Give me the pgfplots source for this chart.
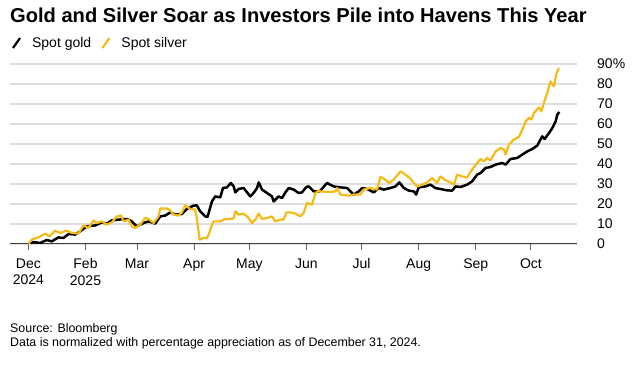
\documentclass[border=0pt]{standalone}
\usepackage{fontspec}
\setmainfont{Liberation Sans}
\usepackage{pgfplots}
\pgfplotsset{compat=1.18}
\definecolor{silv}{RGB}{244,187,22}
\definecolor{gridc}{RGB}{222,222,222}
\begin{document}
\begin{tikzpicture}[x=1pt,y=1pt]
\path[use as bounding box] (0,0) rectangle (638,379);
\node[anchor=base west, inner sep=0pt, font=\fontsize{20.1}{22}\selectfont\bfseries] at (10,356) {Gold and Silver Soar as Investors Pile into Havens This Year};
\node[anchor=base west, inner sep=0pt, font=\fontsize{12.4}{14}\selectfont] at (10,46) {Source: Bloomberg};
\node[anchor=base west, inner sep=0pt, font=\fontsize{12.4}{14}\selectfont] at (10,32) {Data is normalized with percentage appreciation as of December 31, 2024.};
\begin{axis}[
  at={(10pt,135pt)}, anchor=south west,
  scale only axis, width=567pt, height=180pt,
  xmin=-10, xmax=298, ymin=0, ymax=90,
  axis x line*=bottom, axis y line*=right,
  axis line style={-},
  y axis line style={draw=none},
  x axis line style={draw=black!75, line width=1pt},
  ymajorgrids, grid style={gridc, line width=1.3pt},
  ytick={0,10,20,30,40,50,60,70,80,90},
  yticklabels={0,10,20,30,40,50,60,70,80,90\%},
  ytick style={draw=none},
  yticklabel style={anchor=west, inner sep=0pt, xshift=20pt, font=\fontsize{14}{16}\selectfont},
  xtick={0,31,59,90,120,151,181,212,243,273},
  xticklabels={Dec\\2024,Feb\\2025,Mar,Apr,May,Jun,Jul,Aug,Sep,Oct},
  xticklabel style={align=center, yshift=-5pt, font=\fontsize{14}{16.5}\selectfont},
  xtick align=outside, major tick length=6pt,
  xtick style={draw=black!60, line width=1pt},
  legend style={at={(0.003,1.161)}, anchor=north west, draw=none, fill=none, legend columns=2, font=\fontsize{14}{16}\selectfont, inner sep=0pt, /tikz/every odd column/.append style={column sep=9pt}, /tikz/every even column/.append style={column sep=8pt}},
  legend image code/.code={\draw[#1, line width=2.2pt, line cap=butt] (0pt,-5pt) -- (7pt,5pt);},
]
\addplot[black, line width=2.5pt, line join=round] coordinates {
(0,0) (2.7,1) (6.3,0.5) (10,2) (12.7,1.3) (16.3,3.3) (19,3) (21.8,5) (25.4,4.7) (28.1,6.3)
(31.7,8.8) (36.3,9.3) (39.9,10.8) (42.6,10.2) (45.3,11.8) (48.9,12.2) (53.5,12.5) (56.2,11.3)
(58.9,8.8) (62.5,10.5) (65.3,11.3) (68.9,10.2) (71.6,13.8) (74.3,14.2) (77,15.8) (79.8,14.7)
(83.4,15) (86.1,17.5) (89.7,19.2) (91.5,19.3) (93.3,16.3) (96.1,13.8) (97.3,13.5) (99.7,21.3)
(101.5,23.8) (104.2,23.3) (105.7,28) (107.8,28.3) (110,30.5) (111.5,28.8) (112.4,25.8)
(114.2,27.5) (116.9,28) (120.5,23.8) (122.3,25.5) (124.2,28) (125.1,30.8) (126.9,27.2)
(129.6,25.5) (132.3,23.8) (133.2,21.3) (135.9,23.8) (137.8,23) (139.6,25.8) (141.4,28)
(144.1,27.2) (146.8,25.5) (148.6,25.8) (151,28.5) (152.3,28.8) (155,26.3) (157.7,26.3)
(158.6,26.7) (162.2,30.5) (165.8,28.8) (169.5,28.3) (173.1,28) (174.9,26.3) (176.7,24.7)
(179.4,26.3) (181.3,28) (184,27.5) (187.6,25.8) (190.3,28) (193,27.2) (196.7,28) (199.4,28.8)
(201.5,30.8) (203.9,28) (206.6,26.7) (209.4,26.3) (210.6,24.7) (212,28.3) (215.7,28.8)
(218.4,29.7) (221,28) (223.8,27.5) (227.5,26.8) (230.2,26.7) (232,28.8) (234.7,28.5)
(238.4,29.7) (241,31.3) (243.8,34.7) (245.6,35.5) (248.3,38) (251,38.5) (253.8,39.7)
(257.4,40.5) (259.2,39.7) (261.9,42.5) (265.5,43) (268.3,44.7) (271,46.3) (273.7,47.5)
(276.4,49.2) (279.1,53.8) (280.4,52.5) (282.8,55.5) (284.6,58) (286.4,61.3) (287.3,64.7) (288.4,66)
};
\addlegendentry{Spot gold}
\addplot[silv, line width=2.2pt, line join=round] coordinates {
(0,0) (1.8,2.2) (5.4,3.3) (9.1,5.2) (11.4,3.8) (14.5,6.7) (17.2,5.5) (20.8,6.7) (23.6,5.5)
(27.2,5.2) (29.9,9.3) (32.6,8) (35.3,11.8) (37.2,10.5) (39.9,11.3) (42.6,9.7) (45.3,10.8)
(48,13.8) (50.2,14.3) (51.7,11.3) (54.4,12.2) (56.2,8.8) (58,8) (60.7,9.7) (63.4,13)
(65.3,12.5) (68,10.5) (70.7,13.8) (71.6,17.7) (75.2,17.7) (77,16.8) (78.8,14.7) (81.6,14.2)
(83.4,15.8) (85.2,19.3) (87.9,17.5) (90.6,17.2) (91.5,13) (93,2.2) (95.2,3) (97,3) (97.9,4.7)
(99.1,8) (100.6,11.3) (104.2,11.3) (106.9,12.5) (109.7,12.5) (111.5,12.8) (112.4,16.3)
(114.2,14.7) (116.9,15.2) (119.6,13) (121.4,10.5) (123.3,12.2) (125.1,15.2) (126.9,12.5)
(129.6,13) (132.3,13.8) (134.1,11.3) (136.9,12.2) (138.7,12.2) (140.1,15.8) (142.3,15.8)
(145,15.2) (147.7,13.8) (149.5,15.5) (151.3,20.5) (154.1,19.7) (155.9,25.5) (157.7,26.7)
(158.6,26.3) (164,26) (166.8,26.3) (167.7,28) (169.5,24.7) (174,24.2) (176.7,24.7)
(180.3,24.7) (182.2,27.2) (185.8,28) (189.4,27.2) (191.2,33.5) (193.9,32.2) (195.8,30.5)
(198.5,32.2) (202.1,36.3) (204.8,34.7) (207.2,33) (209.4,30.5) (211.2,28.8) (213,29.3)
(216.6,30.8) (219.3,33) (222,30.5) (223.8,33.8) (226.6,31.8) (229.3,30.8) (231.1,29.7)
(232.9,34.7) (235.6,33.8) (238.4,33.3) (241,37.2) (243.8,40.5) (245.6,42.5) (247.4,41.3)
(249.2,43) (251,41.8) (253.8,46.3) (256.5,48) (258.3,47.2) (259.2,44.7) (261,49.7)
(263.7,52.2) (266.4,53.5) (268.3,57.2) (270.1,61.3) (271.9,63) (273.2,62.2) (274.6,65.5)
(277.3,68.3) (278.6,66.3) (280,70.5) (281.8,75.5) (283.6,81.3) (285.5,78.8) (286.9,85.5) (288.2,88)
};
\addlegendentry{Spot silver}
\end{axis}
\end{tikzpicture}
\end{document}
